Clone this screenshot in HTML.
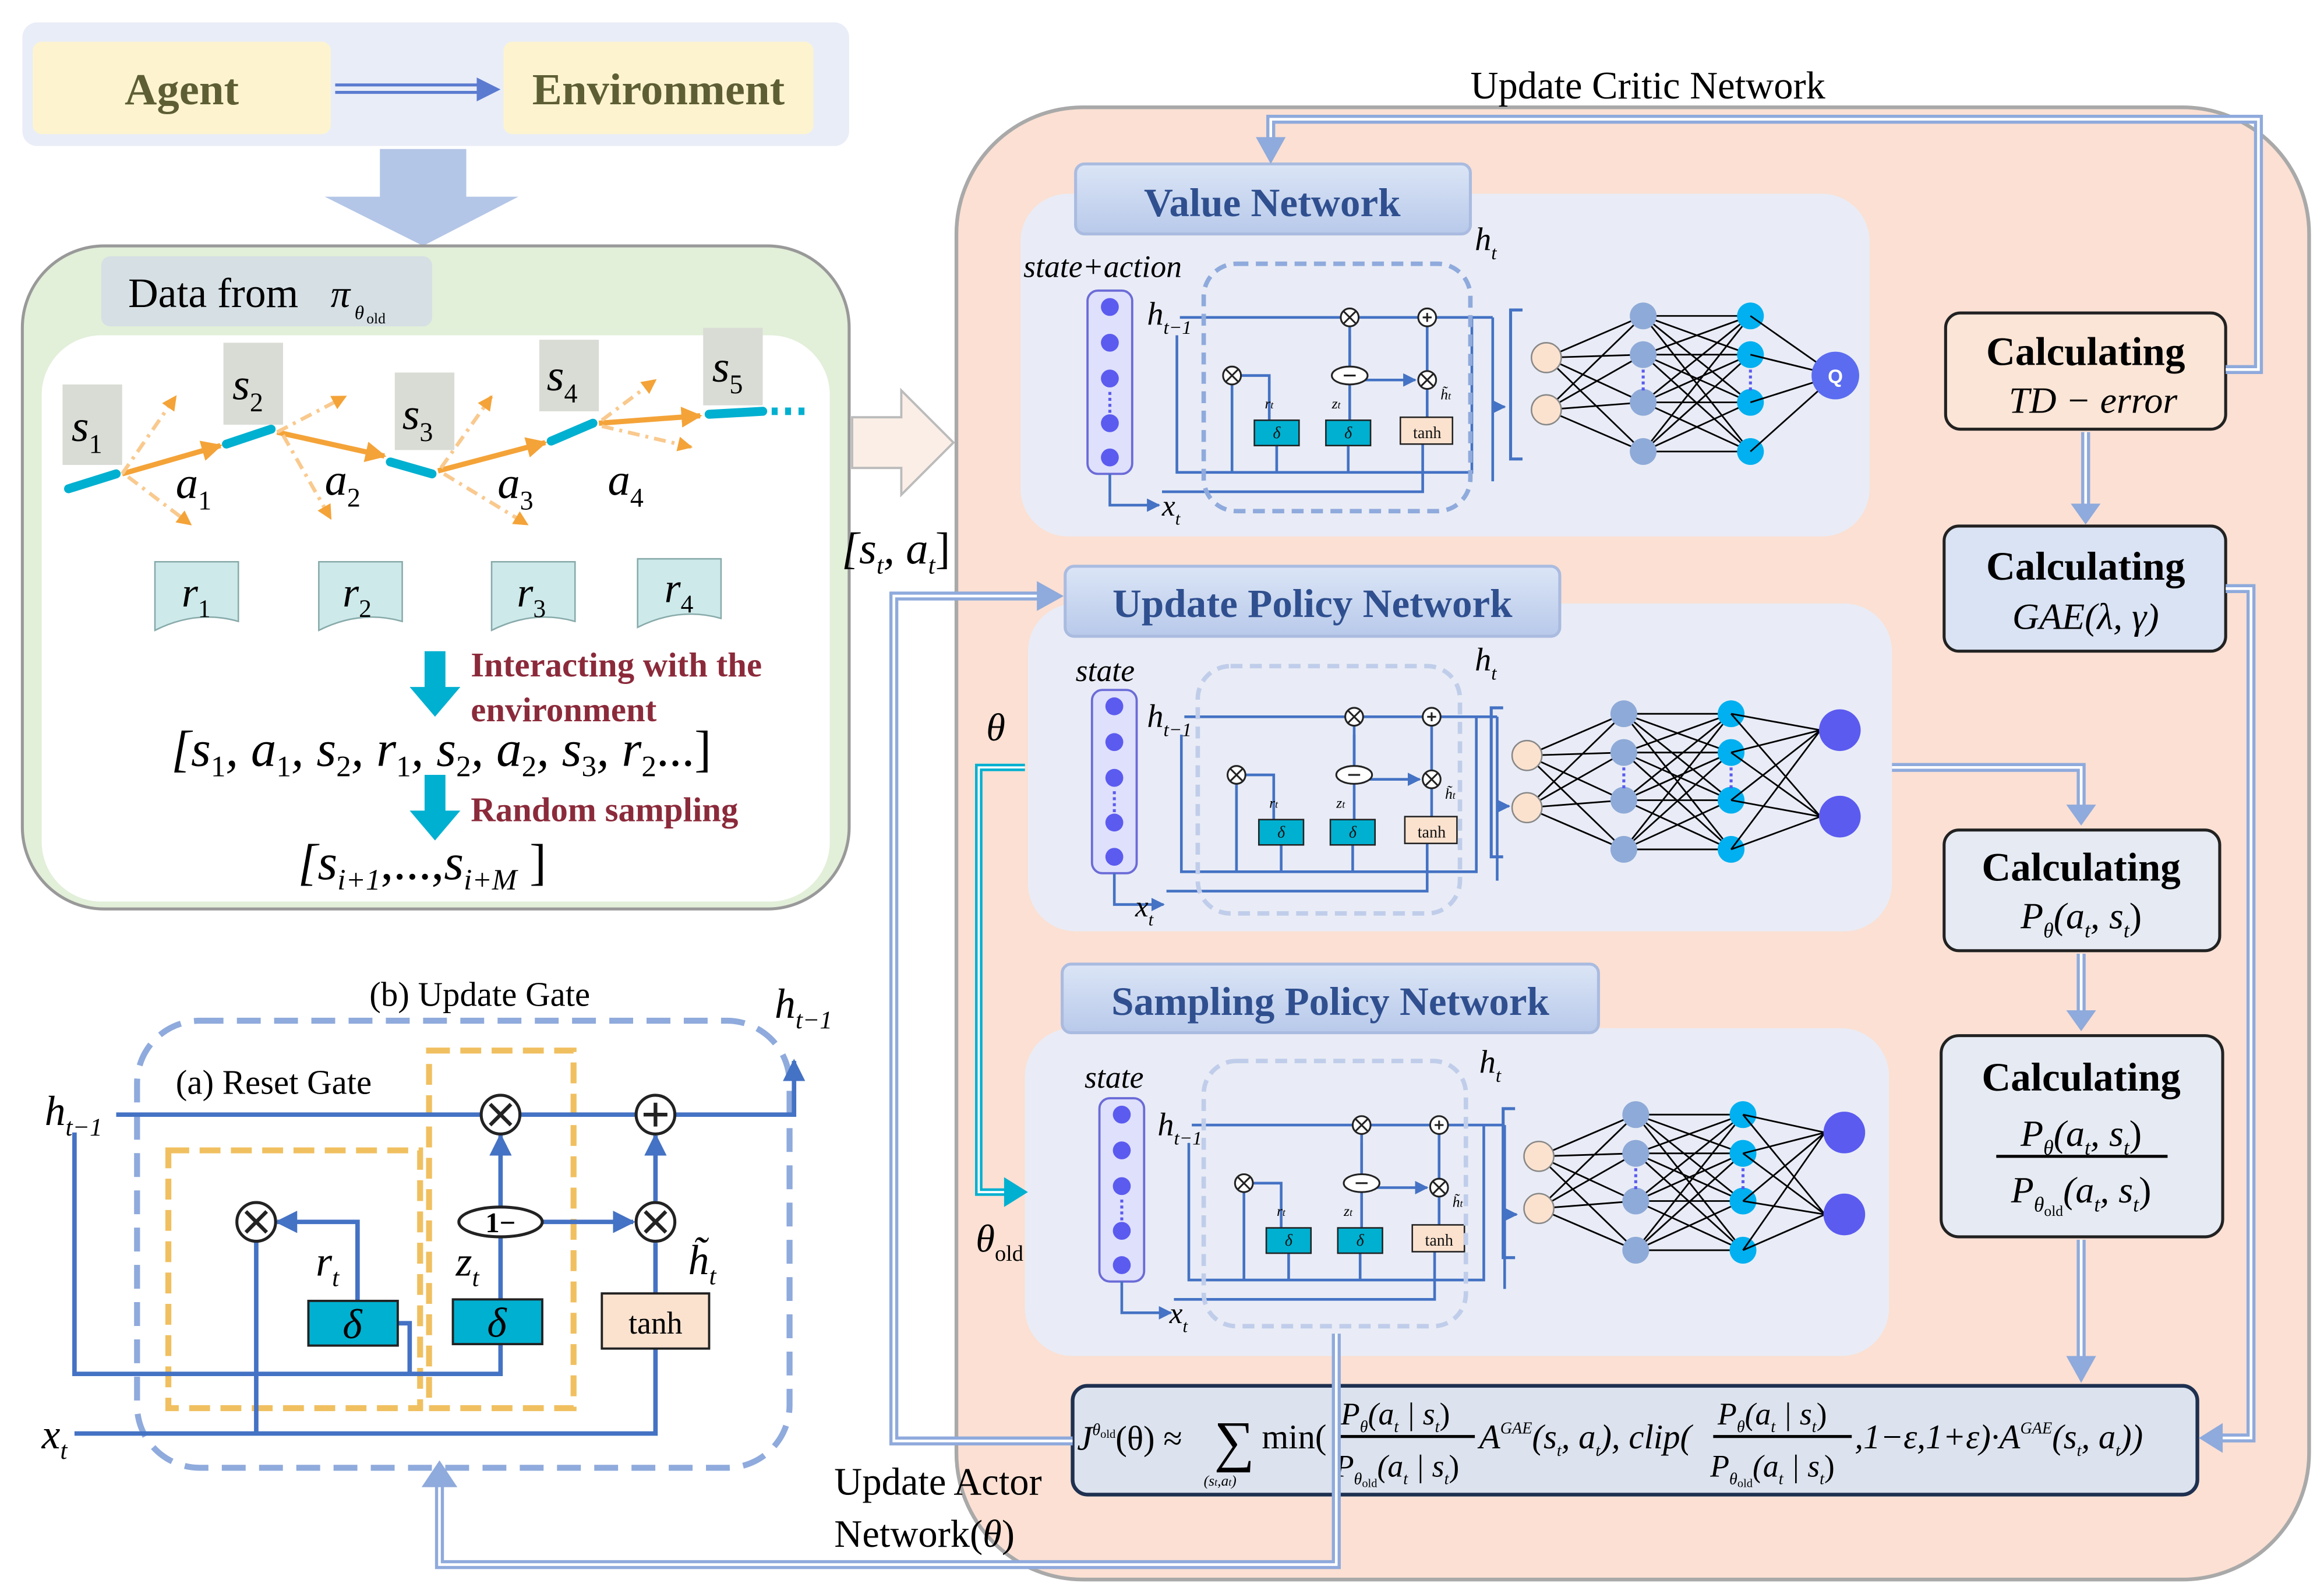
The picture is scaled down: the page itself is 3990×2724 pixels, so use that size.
<!DOCTYPE html><html><head><meta charset="utf-8"><style>html,body{margin:0;padding:0;background:#fff}svg{display:block}</style></head><body>
<svg xmlns="http://www.w3.org/2000/svg" width="3990" height="2724" viewBox="0 0 1560 1065" font-family="Liberation Serif, serif">
<defs>
<marker id="ab" viewBox="0 0 10 10" refX="9" refY="5" markerWidth="5" markerHeight="5" orient="auto"><path d="M0,0L10,5L0,10z" fill="#4472c4"/></marker>
<marker id="ao" viewBox="0 0 10 10" refX="9" refY="5" markerWidth="4" markerHeight="4" orient="auto"><path d="M0,0L10,5L0,10z" fill="#f4a338"/></marker>
<linearGradient id="tg" x1="0" y1="0" x2="0" y2="1"><stop offset="0" stop-color="#dbe5f6"/><stop offset="1" stop-color="#b8c9ea"/></linearGradient>
<g id="nn">
<g stroke="#000" stroke-width="1.1">
<path d="M0,0L65,-28M0,0L65,-2M0,0L65,30M0,0L65,63M0,35L65,-28M0,35L65,-2M0,35L65,30M0,35L65,63"/>
<path d="M65,-28L137,-28M65,-28L137,-2M65,-28L137,30M65,-28L137,63M65,-2L137,-28M65,-2L137,-2M65,-2L137,30M65,-2L137,63M65,30L137,-28M65,30L137,-2M65,30L137,30M65,30L137,63M65,63L137,-28M65,63L137,-2M65,63L137,30M65,63L137,63"/>
</g>
<path d="M-16,-32h-8v100h8" fill="none" stroke="#4472c4" stroke-width="2"/>
<circle cx="0" cy="0" r="10" fill="#fbe2cf" stroke="#888"/><circle cx="0" cy="35" r="10" fill="#fbe2cf" stroke="#888"/>
<g fill="#8eaad8"><circle cx="65" cy="-28" r="9"/><circle cx="65" cy="-2" r="9"/><circle cx="65" cy="30" r="9"/><circle cx="65" cy="63" r="9"/></g>
<g fill="#00b0f0"><circle cx="137" cy="-28" r="9"/><circle cx="137" cy="-2" r="9"/><circle cx="137" cy="30" r="9"/><circle cx="137" cy="63" r="9"/></g>
<path d="M65,8v14M137,8v14" stroke="#5b5bf0" stroke-dasharray="2 2" stroke-width="2"/>
</g>
<g id="gru">
<rect x="0" y="0" width="30" height="123" rx="7" fill="#dfe0fb" stroke="#6b6bd8" stroke-width="1.5"/>
<g fill="#5b5bf0"><circle cx="15" cy="11" r="6"/><circle cx="15" cy="35" r="6"/><circle cx="15" cy="59" r="6"/><circle cx="15" cy="89" r="6"/><circle cx="15" cy="112" r="6"/></g>
<path d="M15,68v14" stroke="#5b5bf0" stroke-dasharray="2 2" stroke-width="2"/>
<g stroke="#4472c4" stroke-width="1.8" fill="none">
<path d="M62,18H272"/><path d="M60,30V122H258V18"/>
<path d="M50,135H225V103"/>
<path d="M97,57V122"/><path d="M97,57H122V87"/><path d="M176,57V30"/><path d="M176,57V87"/><path d="M176,50V18"/>
<path d="M182,60H220" marker-end="url(#ab)"/><path d="M228,85V66"/><path d="M228,54V24"/>
<path d="M127,104V122M175,104V122"/>
<path d="M15,123V144H48" marker-end="url(#ab)"/>
<path d="M272,18V128"/><path d="M272,78H280" marker-end="url(#ab)"/>
</g>
<g fill="#fff" stroke="#222" stroke-width="1.2"><circle cx="97" cy="57" r="6"/><circle cx="176" cy="18" r="6"/><circle cx="228" cy="18" r="6"/><circle cx="228" cy="60" r="6"/><ellipse cx="176" cy="57" rx="12" ry="6"/></g>
<path d="M93,53l8,8M101,53l-8,8M172,14l8,8M180,14l-8,8M224,56l8,8M232,56l-8,8M225,18h6M228,15v6M172,57h8" stroke="#222" stroke-width="1.2"/>
<rect x="112" y="87" width="30" height="17" fill="#00b0d0" stroke="#222"/><rect x="160" y="87" width="30" height="17" fill="#00b0d0" stroke="#222"/>
<rect x="210" y="85" width="35" height="18" fill="#fbe2cf" stroke="#222"/>
</g>
</defs>
<rect x="15" y="15" width="555" height="83" rx="10" fill="#e9edf7"/>
<rect x="22" y="28" width="200" height="62" rx="6" fill="#fdf4cf"/>
<rect x="338" y="28" width="208" height="62" rx="6" fill="#fdf4cf"/>
<text x="122" y="70" font-size="30" font-weight="bold" fill="#5e5e35" text-anchor="middle">Agent</text>
<text x="442" y="70" font-size="30" font-weight="bold" fill="#5e5e35" text-anchor="middle">Environment</text>
<path d="M225,57H322M225,62H322" stroke="#5b7bd0" stroke-width="2"/><path d="M320,52L336,60L320,68z" fill="#5b7bd0"/>
<path d="M255,100H313V132H348L284,165L218,132H255z" fill="#b4c6e7"/>
<rect x="15" y="165" width="555" height="445" rx="55" fill="#e2efd9" stroke="#999" stroke-width="2"/>
<rect x="28" y="225" width="529" height="380" rx="40" fill="#fff"/>
<rect x="68" y="172" width="222" height="47" rx="6" fill="#d5dfe4"/>
<text x="86" y="206" font-size="28">Data from</text><text x="222" y="206" font-size="26" font-style="italic">π</text><text x="238" y="214" font-size="13" font-style="italic">θ</text><text x="246" y="217" font-size="10">old</text>
<g stroke="#00b0d0" stroke-width="6" stroke-linecap="round"><path d="M46,328L78,318"/><path d="M152,298L182,288"/><path d="M262,310L290,318"/><path d="M370,296L398,284"/><path d="M476,278L512,276"/></g>
<path d="M518,276h26" stroke="#00b0d0" stroke-width="5" stroke-dasharray="4 5"/>
<g stroke="#f4a338" stroke-width="3.5" fill="none"><path d="M82,318L148,299" marker-end="url(#ao)"/><path d="M186,290L258,306" marker-end="url(#ao)"/><path d="M294,316L366,297" marker-end="url(#ao)"/><path d="M402,284L470,279" marker-end="url(#ao)"/></g>
<g stroke="#f9c98e" stroke-width="2.5" stroke-dasharray="8 4 2 4" fill="none"><path d="M82,318L118,266" marker-end="url(#ao)"/><path d="M86,320L128,352" marker-end="url(#ao)"/><path d="M186,290L232,266" marker-end="url(#ao)"/><path d="M190,292L222,348" marker-end="url(#ao)"/><path d="M296,314L330,266" marker-end="url(#ao)"/><path d="M298,318L354,352" marker-end="url(#ao)"/><path d="M404,282L440,255" marker-end="url(#ao)"/><path d="M404,286L464,300" marker-end="url(#ao)"/></g>
<g fill="#d9dcd5"><rect x="42" y="258" width="40" height="54"/><rect x="150" y="230" width="40" height="55"/><rect x="265" y="250" width="40" height="52"/><rect x="362" y="228" width="40" height="48"/><rect x="472" y="220" width="40" height="52"/></g>
<g font-size="30" font-style="italic"><text x="48" y="296">s<tspan font-size="18" dy="8" font-style="normal">1</tspan></text><text x="156" y="268">s<tspan font-size="18" dy="8" font-style="normal">2</tspan></text><text x="270" y="288">s<tspan font-size="18" dy="8" font-style="normal">3</tspan></text><text x="367" y="262">s<tspan font-size="18" dy="8" font-style="normal">4</tspan></text><text x="478" y="256">s<tspan font-size="18" dy="8" font-style="normal">5</tspan></text>
<text x="118" y="334">a<tspan font-size="18" dy="8" font-style="normal">1</tspan></text><text x="218" y="332">a<tspan font-size="18" dy="8" font-style="normal">2</tspan></text><text x="334" y="334">a<tspan font-size="18" dy="8" font-style="normal">3</tspan></text><text x="408" y="332">a<tspan font-size="18" dy="8" font-style="normal">4</tspan></text></g>
<g fill="#cde9ea" stroke="#8aa" stroke-width="1"><path d="M104,377h56v40q-28,-8 -56,6z"/><path d="M214,377h56v40q-28,-8 -56,6z"/><path d="M330,377h56v40q-28,-8 -56,6z"/><path d="M428,375h56v40q-28,-8 -56,6z"/></g>
<g font-size="28" font-style="italic"><text x="122" y="407">r<tspan font-size="17" dy="7" font-style="normal">1</tspan></text><text x="230" y="407">r<tspan font-size="17" dy="7" font-style="normal">2</tspan></text><text x="347" y="407">r<tspan font-size="17" dy="7" font-style="normal">3</tspan></text><text x="446" y="404">r<tspan font-size="17" dy="7" font-style="normal">4</tspan></text></g>
<path d="M285,437h14v24h10l-17,20l-17,-20h10z" fill="#00b0d0"/>
<path d="M285,520h14v24h10l-17,20l-17,-20h10z" fill="#00b0d0"/>
<g font-size="23" font-weight="bold" fill="#8b2a3a"><text x="316" y="454">Interacting with the</text><text x="316" y="484">environment</text><text x="316" y="551">Random sampling</text></g>
<text x="115" y="514" font-size="34" font-style="italic">[s<tspan font-size="20" dy="7" font-style="normal">1</tspan><tspan dy="-7">, a</tspan><tspan font-size="20" dy="7" font-style="normal">1</tspan><tspan dy="-7">, s</tspan><tspan font-size="20" dy="7" font-style="normal">2</tspan><tspan dy="-7">, r</tspan><tspan font-size="20" dy="7" font-style="normal">1</tspan><tspan dy="-7">, s</tspan><tspan font-size="20" dy="7" font-style="normal">2</tspan><tspan dy="-7">, a</tspan><tspan font-size="20" dy="7" font-style="normal">2</tspan><tspan dy="-7">, s</tspan><tspan font-size="20" dy="7" font-style="normal">3</tspan><tspan dy="-7">, r</tspan><tspan font-size="20" dy="7" font-style="normal">2</tspan><tspan dy="-7" font-style="normal">...]</tspan></text>
<text x="200" y="590" font-size="34" font-style="italic">[s<tspan font-size="20" dy="7">i+1</tspan><tspan dy="-7" font-style="normal">,...,</tspan>s<tspan font-size="20" dy="7">i+M</tspan><tspan dy="-7" font-style="normal"> ]</tspan></text>
<path d="M572,280H605V262L640,297L605,332V314H572z" fill="#fbeee6" stroke="#bbb" stroke-width="1.5"/>
<text x="565" y="378" font-size="30" font-style="italic">[s<tspan font-size="17" dy="7">t</tspan><tspan dy="-7">, a</tspan><tspan font-size="17" dy="7">t</tspan><tspan dy="-7" font-style="normal">]</tspan></text>
<rect x="642" y="72" width="908" height="988" rx="85" fill="#fbe0d3" stroke="#a9a9a9" stroke-width="2.5"/>
<text x="987" y="66" font-size="26">Update Critic Network</text>
<rect x="685" y="130" width="570" height="230" rx="32" fill="#e9ecf6"/>
<rect x="690" y="405" width="580" height="220" rx="32" fill="#e9ecf6"/>
<rect x="688" y="690" width="580" height="220" rx="32" fill="#e9ecf6"/>
<rect x="722" y="110" width="265" height="47" rx="6" fill="url(#tg)" stroke="#aabbe0" stroke-width="2"/>
<rect x="715" y="380" width="332" height="47" rx="6" fill="url(#tg)" stroke="#aabbe0" stroke-width="2"/>
<rect x="713" y="647" width="360" height="46" rx="6" fill="url(#tg)" stroke="#aabbe0" stroke-width="2"/>
<g font-size="27" font-weight="bold" fill="#2f4f8f" text-anchor="middle"><text x="854" y="145">Value Network</text><text x="881" y="414">Update Policy Network</text><text x="893" y="681">Sampling Policy Network</text></g>
<use href="#gru" x="730" y="195"/><use href="#gru" x="733" y="463"/><use href="#gru" x="738" y="737"/>
<rect x="808" y="177" width="179" height="166" rx="22" fill="none" stroke="#8faadc" stroke-width="3" stroke-dasharray="8 5"/>
<rect x="804" y="447" width="176" height="166" rx="22" fill="none" stroke="#c0cdea" stroke-width="3" stroke-dasharray="8 5"/>
<rect x="808" y="712" width="176" height="178" rx="22" fill="none" stroke="#c0cdea" stroke-width="3" stroke-dasharray="8 5"/>
<g font-style="italic">
<text x="687" y="186" font-size="21">state+action</text><text x="722" y="457" font-size="21">state</text><text x="728" y="730" font-size="21">state</text>
<text x="990" y="168" font-size="22">h<tspan font-size="13" dy="6">t</tspan></text><text x="990" y="450" font-size="22">h<tspan font-size="13" dy="6">t</tspan></text><text x="993" y="720" font-size="22">h<tspan font-size="13" dy="6">t</tspan></text>
<text x="770" y="218" font-size="22">h<tspan font-size="13" dy="6">t−1</tspan></text><text x="770" y="488" font-size="22">h<tspan font-size="13" dy="6">t−1</tspan></text><text x="777" y="762" font-size="22">h<tspan font-size="13" dy="6">t−1</tspan></text>
<text x="780" y="346" font-size="20">x<tspan font-size="12" dy="6">t</tspan></text><text x="762" y="615" font-size="20">x<tspan font-size="12" dy="6">t</tspan></text><text x="785" y="888" font-size="20">x<tspan font-size="12" dy="6">t</tspan></text>
</g>
<g font-size="10" font-style="italic"><text x="849" y="274">r<tspan font-size="7">t</tspan></text><text x="894" y="274">z<tspan font-size="7">t</tspan></text><text x="967" y="268">h̃<tspan font-size="7">t</tspan></text>
<text x="852" y="542">r<tspan font-size="7">t</tspan></text><text x="897" y="542">z<tspan font-size="7">t</tspan></text><text x="970" y="536">h̃<tspan font-size="7">t</tspan></text>
<text x="857" y="816">r<tspan font-size="7">t</tspan></text><text x="902" y="816">z<tspan font-size="7">t</tspan></text><text x="975" y="810">h̃<tspan font-size="7">t</tspan></text></g>
<g font-size="11" fill="#111" text-anchor="middle"><text x="857" y="294" font-style="italic">δ</text><text x="905" y="294" font-style="italic">δ</text><text x="958" y="294">tanh</text>
<text x="860" y="562" font-style="italic">δ</text><text x="908" y="562" font-style="italic">δ</text><text x="961" y="562">tanh</text>
<text x="865" y="836" font-style="italic">δ</text><text x="913" y="836" font-style="italic">δ</text><text x="966" y="836">tanh</text></g>
<use href="#nn" x="1038" y="240"/><use href="#nn" x="1025" y="507"/><use href="#nn" x="1033" y="776"/>
<g stroke="#000" stroke-width="1.1"><path d="M1175,212L1232,252M1175,238L1232,252M1175,270L1232,252M1175,303L1232,252"/>
<path d="M1162,479L1222,490M1162,505L1222,490M1162,537L1222,490M1162,570L1222,490M1162,479L1222,548M1162,505L1222,548M1162,537L1222,548M1162,570L1222,548"/>
<path d="M1170,748L1225,760M1170,774L1225,760M1170,806L1225,760M1170,839L1225,760M1170,748L1225,815M1170,774L1225,815M1170,806L1225,815M1170,839L1225,815"/></g>
<circle cx="1232" cy="252" r="16" fill="#5b6cf0"/><text x="1232" y="257" font-size="13" font-weight="bold" fill="#fff" text-anchor="middle" font-family="Liberation Sans, sans-serif">Q</text>
<g fill="#5b5bf0"><circle cx="1235" cy="490" r="14"/><circle cx="1235" cy="548" r="14"/><circle cx="1238" cy="760" r="14"/><circle cx="1238" cy="815" r="14"/></g>
<rect x="1306" y="210" width="188" height="78" rx="10" fill="#fbe5d6" stroke="#222" stroke-width="2"/>
<rect x="1305" y="353" width="189" height="84" rx="10" fill="#dae3f3" stroke="#222" stroke-width="2"/>
<rect x="1305" y="557" width="185" height="81" rx="10" fill="#e6ebf3" stroke="#222" stroke-width="2"/>
<rect x="1303" y="695" width="189" height="135" rx="12" fill="#e6ebf3" stroke="#222" stroke-width="2"/>
<g font-size="27" font-weight="bold" text-anchor="middle"><text x="1400" y="245">Calculating</text><text x="1400" y="389">Calculating</text><text x="1397" y="591">Calculating</text><text x="1397" y="732">Calculating</text></g>
<g font-size="25" font-style="italic" text-anchor="middle"><text x="1405" y="277">TD − error</text><text x="1400" y="422">GAE(λ, γ)</text><text x="1397" y="623">P<tspan font-size="14" dy="6">θ</tspan><tspan dy="-6">(a</tspan><tspan font-size="14" dy="6">t</tspan><tspan dy="-6">, s</tspan><tspan font-size="14" dy="6">t</tspan><tspan dy="-6" font-style="normal">)</tspan></text>
<text x="1397" y="769">P<tspan font-size="14" dy="6">θ</tspan><tspan dy="-6">(a</tspan><tspan font-size="14" dy="6">t</tspan><tspan dy="-6">, s</tspan><tspan font-size="14" dy="6">t</tspan><tspan dy="-6" font-style="normal">)</tspan></text>
<text x="1397" y="807">P<tspan font-size="14" dy="6">θ</tspan><tspan font-size="10" dy="3" font-style="normal">old</tspan><tspan dy="-9">(a</tspan><tspan font-size="14" dy="6">t</tspan><tspan dy="-6">, s</tspan><tspan font-size="14" dy="6">t</tspan><tspan dy="-6" font-style="normal">)</tspan></text></g>
<path d="M1340,776H1455" stroke="#000" stroke-width="2"/>
<rect x="720" y="930" width="755" height="73" rx="10" fill="#dce3ee" stroke="#1f3050" stroke-width="2.5"/>
<g font-size="23" font-style="italic">
<text x="723" y="973">J<tspan font-size="11" dy="-10">θ</tspan><tspan font-size="8" dy="2" font-style="normal">old</tspan><tspan dy="8" font-style="normal">(θ) ≈</tspan></text>
<text x="815" y="980" font-size="38" font-style="normal">∑</text><text x="808" y="997" font-size="10">(s<tspan font-size="7">t</tspan>,a<tspan font-size="7">t</tspan>)</text>
<text x="847" y="972" font-style="normal">min(</text>
<text x="900" y="956" font-size="21">P<tspan font-size="11" dy="5">θ</tspan><tspan dy="-5">(a</tspan><tspan font-size="11" dy="5">t</tspan><tspan dy="-5"> | s</tspan><tspan font-size="11" dy="5">t</tspan><tspan dy="-5" font-style="normal">)</tspan></text>
<text x="896" y="991" font-size="21">P<tspan font-size="11" dy="5">θ</tspan><tspan font-size="8" dy="2" font-style="normal">old</tspan><tspan dy="-7">(a</tspan><tspan font-size="11" dy="5">t</tspan><tspan dy="-5"> | s</tspan><tspan font-size="11" dy="5">t</tspan><tspan dy="-5" font-style="normal">)</tspan></text>
<text x="993" y="972">A<tspan font-size="11" dy="-10">GAE</tspan><tspan dy="10">(s</tspan><tspan font-size="11" dy="5">t</tspan><tspan dy="-5">, a</tspan><tspan font-size="11" dy="5">t</tspan><tspan dy="-5">), clip(</tspan></text>
<text x="1153" y="956" font-size="21">P<tspan font-size="11" dy="5">θ</tspan><tspan dy="-5">(a</tspan><tspan font-size="11" dy="5">t</tspan><tspan dy="-5"> | s</tspan><tspan font-size="11" dy="5">t</tspan><tspan dy="-5" font-style="normal">)</tspan></text>
<text x="1148" y="991" font-size="21">P<tspan font-size="11" dy="5">θ</tspan><tspan font-size="8" dy="2" font-style="normal">old</tspan><tspan dy="-7">(a</tspan><tspan font-size="11" dy="5">t</tspan><tspan dy="-5"> | s</tspan><tspan font-size="11" dy="5">t</tspan><tspan dy="-5" font-style="normal">)</tspan></text>
<text x="1245" y="972">,1−ε,1+ε)·A<tspan font-size="11" dy="-10">GAE</tspan><tspan dy="10">(s</tspan><tspan font-size="11" dy="5">t</tspan><tspan dy="-5">, a</tspan><tspan font-size="11" dy="5">t</tspan><tspan dy="-5">))</tspan></text>
</g>
<path d="M897,964H990M1150,964H1243" stroke="#000" stroke-width="2"/>
<g fill="none" stroke-linejoin="miter">
<g stroke="#8faadc" stroke-width="6"><path d="M1494,248H1516V80H853V100"/><path d="M1400,290V343"/><path d="M1494,395H1511V965H1490"/><path d="M1270,515H1397V545"/><path d="M1397,640V684"/><path d="M1397,832V920"/><path d="M720,967H600V400H702"/><path d="M897,895V1050H295V995"/></g>
<g stroke="#fff" stroke-width="1.8"><path d="M1494,248H1516V80H853V100"/><path d="M1400,290V343"/><path d="M1494,395H1511V965H1490"/><path d="M1270,515H1397V545"/><path d="M1397,640V684"/><path d="M1397,832V920"/><path d="M720,967H600V400H702"/><path d="M897,895V1050H295V995"/></g>
</g>
<g fill="#8faadc"><path d="M843,92L863,92L853,110z"/><path d="M1390,338L1410,338L1400,352z"/><path d="M1492,955L1492,975L1476,965z"/><path d="M1387,540L1407,540L1397,554z"/><path d="M1387,678L1407,678L1397,692z"/><path d="M1387,910L1407,910L1397,928z"/><path d="M696,390L696,410L714,400z"/><path d="M283,998L307,998L295,980z"/></g>
<path d="M688,515H657V800H680" fill="none" stroke="#00b0d0" stroke-width="5"/><path d="M688,515H657V800H680" fill="none" stroke="#fff" stroke-width="1.5"/>
<path d="M674,790L690,800L674,810z" fill="#00b0d0"/>
<text x="662" y="497" font-size="26" font-style="italic">θ</text>
<text x="655" y="840" font-size="26" font-style="italic">θ<tspan font-size="15" dy="6" font-style="normal">old</tspan></text>
<text x="560" y="1003" font-size="26">Update Actor</text><text x="560" y="1038" font-size="26">Network(<tspan font-style="italic">θ</tspan>)</text>
<rect x="92" y="685" width="438" height="300" rx="42" fill="none" stroke="#8faadc" stroke-width="4" stroke-dasharray="16 9"/>
<rect x="113" y="772" width="169" height="173" fill="none" stroke="#f0c060" stroke-width="4" stroke-dasharray="14 7"/>
<rect x="288" y="705" width="97" height="240" fill="none" stroke="#f0c060" stroke-width="4" stroke-dasharray="14 7"/>
<text x="248" y="675" font-size="23">(b) Update Gate</text><text x="118" y="734" font-size="23">(a) Reset Gate</text>
<g stroke="#4472c4" stroke-width="3" fill="none">
<path d="M78,748H533V712" marker-end="url(#ab)"/>
<path d="M50,760V922H336V902"/><path d="M50,962H440V905"/>
<path d="M172,832V962"/><path d="M267,888H275V922"/>
<path d="M240,873V820H186" marker-end="url(#ab)"/>
<path d="M336,872V830"/><path d="M336,810V762" marker-end="url(#ab)"/>
<path d="M348,820H425" marker-end="url(#ab)"/>
<path d="M440,868V834"/><path d="M440,806V762" marker-end="url(#ab)"/>
</g>
<g fill="#fff" stroke="#222" stroke-width="2"><circle cx="172" cy="820" r="13"/><circle cx="336" cy="748" r="13"/><circle cx="440" cy="748" r="13"/><circle cx="440" cy="820" r="13"/><ellipse cx="336" cy="820" rx="28" ry="10"/></g>
<path d="M165,813l14,14M179,813l-14,14M329,741l14,14M343,741l-14,14M433,813l14,14M447,813l-14,14M432,748h16M440,740v16" stroke="#222" stroke-width="2.5"/>
<text x="336" y="827" font-size="19" text-anchor="middle" font-weight="bold">1−</text>
<rect x="207" y="873" width="60" height="30" fill="#00b0d0" stroke="#222" stroke-width="1.5"/><rect x="304" y="872" width="60" height="30" fill="#00b0d0" stroke="#222" stroke-width="1.5"/>
<rect x="404" y="868" width="72" height="37" fill="#fbe2cf" stroke="#222" stroke-width="1.5"/>
<g font-style="italic" font-size="28"><text x="230" y="898">δ</text><text x="327" y="897">δ</text>
<text x="212" y="856">r<tspan font-size="17" dy="7">t</tspan></text><text x="306" y="856">z<tspan font-size="17" dy="7">t</tspan></text><text x="462" y="855">h̃<tspan font-size="17" dy="7">t</tspan></text>
<text x="30" y="755">h<tspan font-size="17" dy="7">t−1</tspan></text><text x="520" y="683">h<tspan font-size="17" dy="7">t−1</tspan></text><text x="28" y="972">x<tspan font-size="17" dy="7">t</tspan></text></g>
<text x="440" y="895" font-size="21" text-anchor="middle">tanh</text>
</svg>
</body></html>
